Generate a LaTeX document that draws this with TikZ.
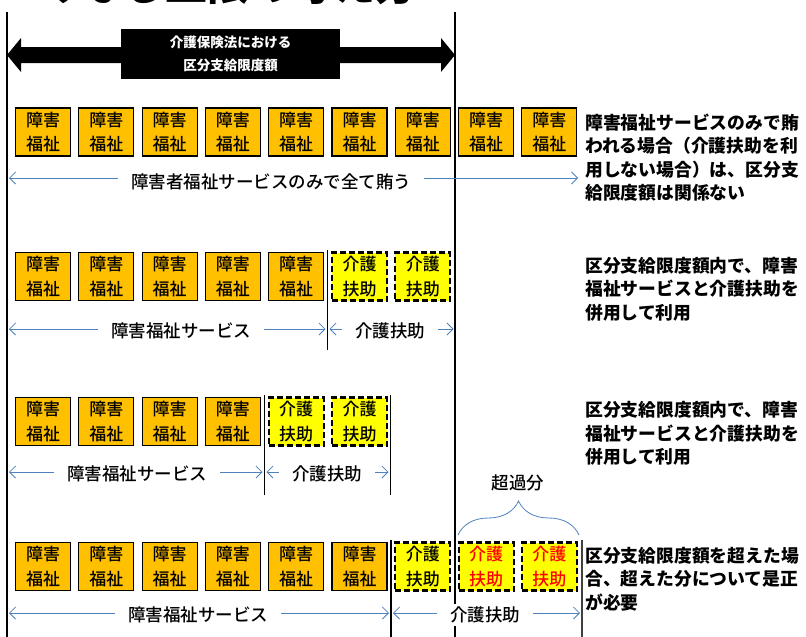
\documentclass[tikz,border=0pt]{standalone}
\usepackage{fontspec}
\setmainfont{Noto Sans CJK JP}
\newfontfamily\medfont{Noto Sans CJK JP Medium}
\usetikzlibrary{arrows.meta,decorations.pathreplacing}
\definecolor{orangeF}{HTML}{FFC000}
\definecolor{yellowF}{HTML}{FFFF00}
\definecolor{arrowB}{HTML}{4F81BD}
\definecolor{redT}{HTML}{FF0000}
\definecolor{grayL}{HTML}{404040}
\begin{document}
\begin{tikzpicture}[x=1pt,y=-1pt,
  fuku/.style={draw=black, line width=1.1pt, fill=orangeF, minimum width=55pt, minimum height=48pt, inner sep=0pt, align=center, font=\medfont\fontsize{17}{24.5}\selectfont},
  kaigo/.style={fuku, fill=yellowF, line width=2.2pt, dash pattern=on 6pt off 3pt},
  lab/.style={font=\medfont\fontsize{17.5}{20}\selectfont, inner xsep=13pt, inner ysep=3pt},
  note/.style={anchor=west, align=left, font=\bfseries\fontsize{17.8}{23.5}\selectfont, inner sep=0pt},
  barr/.style={draw=arrowB, line width=0.8pt, -{Straight Barb[length=6pt,width=12pt]}},
  vline/.style={draw=black, line width=1.4pt},
]
\useasboundingbox (0,0) rectangle (806,637);
\fill[white] (0,0) rectangle (806,637);

% cut-off title (only its lower edge lies inside the picture)
\node[anchor=base west, font=\bfseries\fontsize{42}{42}\selectfont, inner sep=0pt] (title) at (39,0) {みなし上限の考え方};

% vertical reference lines
\coordinate (Ltop) at (7,12); \coordinate (Lbot) at (7,637);
\coordinate (Rtop) at (455,12); \coordinate (Rbot) at (455,637);
\draw[vline] (Ltop) -- (Lbot);
\draw[vline] (Rtop) -- (Rbot);

% top double arrow with box
\fill (7,55) -- (21,38) -- (21,47) -- (441,47) -- (441,38) -- (455,55) -- (441,72) -- (441,63) -- (21,63) -- (21,72) -- cycle;
\node[fill=black, text=white, minimum width=219pt, minimum height=50pt, inner sep=0pt, align=center, font=\bfseries\fontsize{13.5}{23}\selectfont] (kbox) at (230.5,54) {介護保険法における\\区分支給限度額};

% row 1
\foreach \i in {0,...,8} \node[fuku] (a\i) at ({43+63.3*\i},132) {障害\\福祉};
\node[lab] (l1) at (271,182) {障害者福祉サービスのみで全て賄う};
\coordinate (l1L) at (9,178); \coordinate (l1R) at (578,178);
\draw[barr] (l1L -| l1.west) -- (l1L);
\draw[barr] (l1R -| l1.east) -- (l1R);
\node[note] (n1) at (585,157.5) {障害福祉サービスのみで賄\\われる場合（介護扶助を利\\用しない場合）は、区分支\\給限度額は関係ない};

% row 2
\foreach \i in {0,...,4} \node[fuku] (b\i) at ({43+63.3*\i},276.5) {障害\\福祉};
\foreach \i in {5,6} \node[kaigo] (b\i) at ({43+63.3*\i},276.5) {介護\\扶助};
\coordinate (v2t) at (327.5,250); \coordinate (v2b) at (327.5,350);
\draw[vline] (v2t) -- (v2b);
\node[lab] (l2a) at (181,331) {障害福祉サービス};
\node[lab] (l2b) at (390,331) {介護扶助};
\coordinate (l2p) at (9,329); \coordinate (l2q) at (325.5,329);
\coordinate (l2r) at (329.5,329); \coordinate (l2s) at (453.5,329);
\draw[barr] (l2p -| l2a.west) -- (l2p);
\draw[barr] (l2q -| l2a.east) -- (l2q);
\draw[barr] (l2r -| l2b.west) -- (l2r);
\draw[barr] (l2s -| l2b.east) -- (l2s);
\node[note] (n2) at (585,289) {区分支給限度額内で、障害\\福祉サービスと介護扶助を\\併用して利用};

% row 3
\foreach \i in {0,...,3} \node[fuku] (c\i) at ({43+63.3*\i},421.5) {障害\\福祉};
\foreach \i in {4,5} \node[kaigo] (c\i) at ({43+63.3*\i},421.5) {介護\\扶助};
\coordinate (v3at) at (264.5,395); \coordinate (v3ab) at (264.5,495);
\coordinate (v3bt) at (390.5,395); \coordinate (v3bb) at (390.5,495);
\draw[vline] (v3at) -- (v3ab);
\draw[vline] (v3bt) -- (v3bb);
\node[lab] (l3a) at (137,474) {障害福祉サービス};
\node[lab] (l3b) at (327,474) {介護扶助};
\coordinate (l3p) at (9,472); \coordinate (l3q) at (262.5,472);
\coordinate (l3r) at (266.5,472); \coordinate (l3s) at (388.5,472);
\draw[barr] (l3p -| l3a.west) -- (l3p);
\draw[barr] (l3q -| l3a.east) -- (l3q);
\draw[barr] (l3r -| l3b.west) -- (l3r);
\draw[barr] (l3s -| l3b.east) -- (l3s);
\node[note] (n3) at (585,433.5) {区分支給限度額内で、障害\\福祉サービスと介護扶助を\\併用して利用};

% row 4
\foreach \i in {0,...,5} \node[fuku] (d\i) at ({43+63.3*\i},566.5) {障害\\福祉};
\node[kaigo] (d6) at ({43+63.3*6},566.5) {介護\\扶助};
\foreach \i in {7,8} \node[kaigo, text=redT] (d\i) at ({43+63.3*\i},566.5) {介護\\扶助};
\coordinate (v4at) at (391,540); \coordinate (v4ab) at (391,637);
\coordinate (v4bt) at (582,540); \coordinate (v4bb) at (582,637);
\draw[vline] (v4at) -- (v4ab);
\draw[vline, draw=grayL] (v4bt) -- (v4bb);
\node[lab] (l4a) at (198,615) {障害福祉サービス};
\node[lab, fill=white] (l4b) at (485,615) {介護扶助};
\coordinate (l4p) at (9,613); \coordinate (l4q) at (389,613);
\coordinate (l4r) at (393,613); \coordinate (l4s) at (580,613);
\draw[barr] (l4p -| l4a.west) -- (l4p);
\draw[barr] (l4q -| l4a.east) -- (l4q);
\draw[barr] (l4r -| l4b.west) -- (l4r);
\draw[barr] (l4s -| l4b.east) -- (l4s);
\coordinate (brL) at (458,535); \coordinate (brR) at (579,535);
\draw[draw=arrowB, line width=0.8pt, decorate, decoration={brace, amplitude=34pt, aspect=0.5}] (brL) -- (brR);
\node[lab] (over) at (518,483) {超過分};
\node[note] (n4) at (585,579) {区分支給限度額を超えた場\\合、超えた分について是正\\が必要};
\end{tikzpicture}
\end{document}
